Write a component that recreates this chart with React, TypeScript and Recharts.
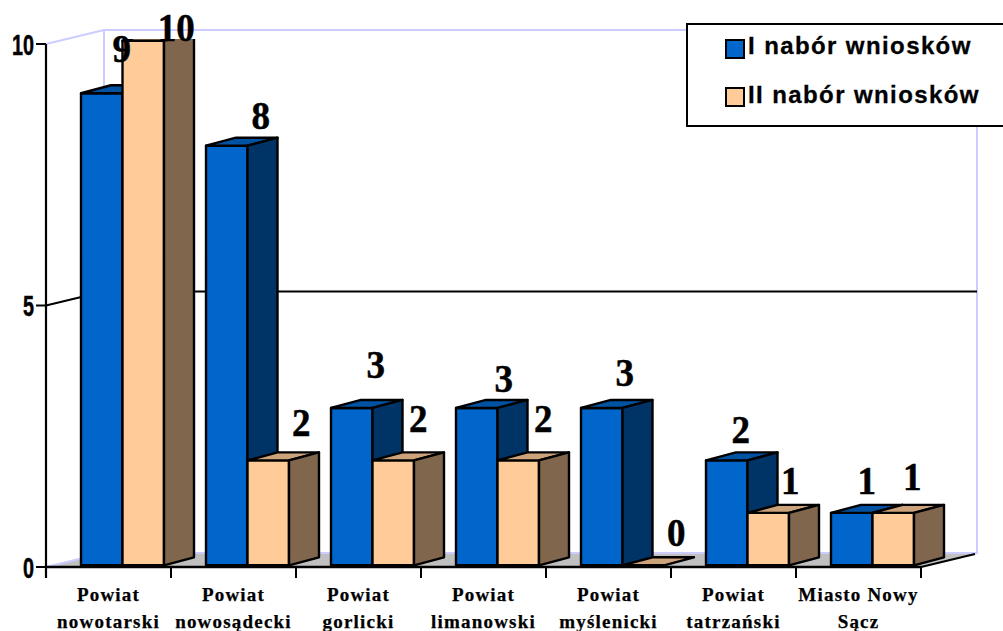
import React from "react";
import { BarChart, Bar, XAxis, YAxis, LabelList, Legend, Customized } from "recharts";

const categories = [
  "Powiat\nnowotarski",
  "Powiat\nnowosądecki",
  "Powiat\ngorlicki",
  "Powiat\nlimanowski",
  "Powiat\nmyślenicki",
  "Powiat\ntatrzański",
  "Miasto Nowy\nSącz",
];
const firstRound = [9, 8, 3, 3, 3, 2, 1];
const secondRound = [10, 2, 2, 2, 0, 1, 1];
const seriesNames = ["I nabór wniosków", "II nabór wniosków"];
const yTicks = [0, 5, 10];

const rows = categories.map((name, i) => ({ name, first: firstRound[i], second: secondRound[i] }));

// Label placement as drawn in the reference (per bar, relative to the bar's front face)
const nudgeFirst = [[20, -45], [34, -30], [24, -43], [27, -29], [23, -35], [14, -31], [15, -32]];
const nudgeSecond = [[33, -13], [33, -38], [25, -42], [25, -42], [33, -33], [22, -32], [19, -36]];

const W = 1003, H = 631;
const L = 46, R = 921, TOP = 39, BOTTOM = 567;
const SHIFT = 14;
const BAR_DX = 30, BAR_DY = -8;
const WALL_DX = 58, WALL_DY = -14;
const LAV = "#ccccff";
const SERIF = '"Liberation Serif", "Times New Roman", serif';
const SANS = '"Liberation Sans", Arial, sans-serif';
const AXIS_UNIT = 52.3;

const blue = { front: "#0066cc", top: "#0052a3", side: "#003366" };
const peach = { front: "#ffcc99", top: "#cca37a", side: "#80664d" };

function Box3D(props: any, c: typeof blue) {
  const { x, y, width, height } = props;
  const x0 = x + SHIFT, x1 = x0 + width, b = y + height;
  const line = { stroke: "#000", strokeWidth: 2.4, strokeLinejoin: "round" as const };
  const isFlat = height < 1;
  return (
    <g>
      {!isFlat && <rect x={x0} y={y} width={width} height={height} fill={c.front} {...line} />}
      <polygon
        points={`${x0},${y} ${x0 + BAR_DX},${y + BAR_DY} ${x1 + BAR_DX},${y + BAR_DY} ${x1},${y}`}
        fill={c.top}
        {...line}
      />
      {!isFlat && (
        <polygon
          points={`${x1},${y} ${x1 + BAR_DX},${y + BAR_DY} ${x1 + BAR_DX},${b + BAR_DY} ${x1},${b}`}
          fill={c.side}
          {...line}
        />
      )}
    </g>
  );
}

function valueLabel(nudge: number[][]) {
  return (p: any) => {
    const [dx, dy] = nudge[p.index];
    const cx = p.x + SHIFT + p.width / 2 + dx;
    const s = String(p.value);
    return (
      <text
        x={cx}
        y={p.y + dy + 13.5}
        textAnchor="middle"
        fontFamily={SERIF}
        fontWeight="bold"
        fontSize={39}
        textLength={18.5 * s.length}
        lengthAdjust="spacingAndGlyphs"
        fill="#000"
        stroke="#000"
        strokeWidth={0.5}
      >
        {s}
      </text>
    );
  };
}

function Frame() {
  const yAt = (v: number) => BOTTOM - v * AXIS_UNIT;
  const step = (R - L) / categories.length;
  const back = BOTTOM + WALL_DY;
  return (
    <g>
      <polygon
        points={`${L},${BOTTOM} ${L + WALL_DX},${back} ${R + WALL_DX - 2},${back} ${R},${BOTTOM}`}
        fill="#c0c0c0"
      />
      <polyline
        points={`${L},${yAt(10)} ${L + WALL_DX},${yAt(10) + WALL_DY} ${R + 56},${yAt(10) + WALL_DY} ${R + 56},${back} ${L + WALL_DX},${back} ${L + WALL_DX},${yAt(10) + WALL_DY}`}
        fill="none"
        stroke={LAV}
        strokeWidth={2}
      />
      <line x1={L} y1={BOTTOM} x2={L + WALL_DX} y2={back} stroke={LAV} strokeWidth={2} />
      <polyline
        points={`${L},${yAt(5)} ${L + WALL_DX},${yAt(5) + WALL_DY} ${R + 56},${yAt(5) + WALL_DY}`}
        fill="none"
        stroke="#000"
        strokeWidth={2}
      />
      <line x1={R} y1={BOTTOM} x2={R + 54} y2={BOTTOM - 13} stroke="#000" strokeWidth={2} />
      <line x1={L} y1={yAt(10)} x2={L} y2={BOTTOM + 11} stroke="#000" strokeWidth={2.2} />
      {categories.map((_, i) => (
        <line key={i} x1={L + step * (i + 1)} y1={BOTTOM} x2={L + step * (i + 1)} y2={BOTTOM + 11} stroke="#000" strokeWidth={2} />
      ))}
    </g>
  );
}

function XTick(props: any) {
  const { x, payload } = props;
  const lines = String(payload.value).split("\n");
  return (
    <text
      textAnchor="middle"
      fontFamily={SERIF}
      fontWeight="bold"
      fontSize={19}
      letterSpacing={1.2}
      fill="#000"
      stroke="#000"
      strokeWidth={0.25}
    >
      {lines.map((t, i) => (
        <tspan key={i} x={x} y={600.5 + i * 27.5}>
          {t}
        </tspan>
      ))}
    </text>
  );
}

function YTick(props: any) {
  const { payload } = props;
  const s = String(payload.value);
  const ty = BOTTOM - Number(payload.value) * AXIS_UNIT;
  return (
    <g>
      <line x1={36} y1={ty} x2={L} y2={ty} stroke="#000" strokeWidth={2} />
      <text
        x={34}
        y={ty + 10.5}
        textAnchor="end"
        fontFamily={SANS}
        fontWeight="bold"
        fontSize={29}
        textLength={11 * s.length}
        lengthAdjust="spacingAndGlyphs"
        fill="#000"
        stroke="#000"
        strokeWidth={0.5}
      >
        {s}
      </text>
    </g>
  );
}

function LegendBox() {
  const items = [
    { label: seriesNames[0], color: blue.front },
    { label: seriesNames[1], color: peach.front },
  ];
  return (
    <div
      style={{
        boxSizing: "border-box",
        width: W - 686,
        height: 104,
        background: "#fff",
        border: "2px solid #000",
        borderRight: "none",
        position: "relative",
      }}
    >
      {items.map((it, i) => (
        <div key={i}>
          <div
            style={{
              position: "absolute",
              left: 37,
              top: 14 + i * 48,
              width: 20,
              height: 20,
              boxSizing: "border-box",
              background: it.color,
              border: "2px solid #000",
            }}
          />
          <div
            style={{
              position: "absolute",
              left: 60,
              top: 5 + i * 48.5,
              fontFamily: SANS,
              fontWeight: "bold",
              fontSize: 24,
              letterSpacing: 1.4,
              lineHeight: "32px",
              whiteSpace: "nowrap",
              color: "#000",
              WebkitTextStroke: "0.3px #000",
            }}
          >
            {it.label}
          </div>
        </div>
      ))}
    </div>
  );
}

export default function App() {
  return (
    <div style={{ position: "absolute", left: 0, top: 0, width: W, height: H, overflow: "hidden" }}>
      <BarChart
        width={W}
        height={H}
        data={rows}
        margin={{ top: TOP, right: W - R, bottom: 0, left: 0 }}
        barSize={41.5}
        barGap={0}
      >
        <Customized component={Frame} />
        <XAxis
          dataKey="name"
          height={H - BOTTOM}
          interval={0}
          tickLine={false}
          axisLine={{ stroke: "#000", strokeWidth: 2.5 }}
          tick={<XTick />}
        />
        <YAxis
          width={L}
          domain={[-0.032, 10.034]}
          allowDataOverflow
          ticks={yTicks}
          tickLine={false}
          axisLine={false}
          tick={<YTick />}
        />
        <Bar dataKey="first" name={seriesNames[0]} isAnimationActive={false} shape={(p: any) => Box3D(p, blue)}>
          <LabelList dataKey="first" content={valueLabel(nudgeFirst)} />
        </Bar>
        <Bar dataKey="second" name={seriesNames[1]} isAnimationActive={false} shape={(p: any) => Box3D(p, peach)}>
          <LabelList dataKey="second" content={valueLabel(nudgeSecond)} />
        </Bar>
        <Legend
          layout="horizontal"
          verticalAlign="middle"
          align="center"
          width={W - 686}
          wrapperStyle={{ left: 686, top: 23, width: W - 686, height: 104, margin: 0, padding: 0 }}
          content={<LegendBox />}
        />
      </BarChart>
    </div>
  );
}
